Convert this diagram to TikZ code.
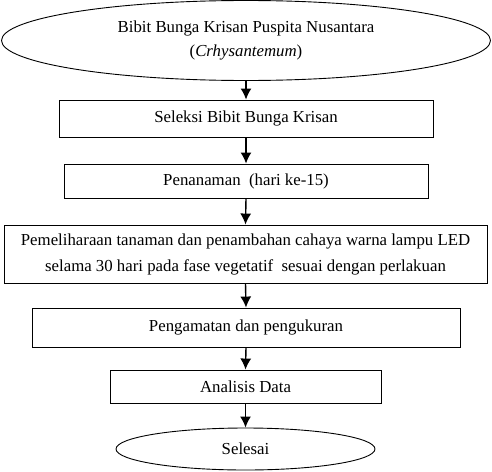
\documentclass[tikz,border=0pt]{standalone}
\usepackage{fontspec}
\setmainfont{Liberation Serif}
\usetikzlibrary{arrows,arrows.meta}
\usetikzlibrary{shapes.geometric}

\begin{document}
\begin{tikzpicture}[x=1pt,y=-1pt,>={Latex[length=11pt,width=11pt]},every node/.style={font=\fontsize{16.8}{24}\selectfont},
	box/.style={draw,line width=0.9pt,inner sep=0pt,align=center},
	oval/.style={draw,ellipse,line width=0.9pt,inner sep=0pt,align=center},
	flow/.style={->,line width=1.4pt}]
	\useasboundingbox (0,0) rectangle (492,471);
	\node[oval,minimum width=489pt,minimum height=80pt] (bibit) at (246,40.5) {Bibit Bunga Krisan Puspita Nusantara\\ (\textit{Crhysantemum})};
	\node[box,minimum width=374pt,minimum height=37pt] (seleksi) at (246,118.5) {Seleksi Bibit Bunga Krisan};
	\node[box,minimum width=364pt,minimum height=34pt] (tanam) at (246,181) {Penanaman\ \ (hari ke-15)};
	\node[box,minimum width=483pt,minimum height=58pt,font=\fontsize{16.8}{26}\selectfont] (pelihara) at (245.5,254) {Pemeliharaan tanaman dan penambahan cahaya warna lampu LED\\ selama 30 hari pada fase vegetatif\ \ sesuai dengan perlakuan};
	\node[box,minimum width=428pt,minimum height=39pt] (amati) at (246,327.5) {Pengamatan dan pengukuran};
	\node[box,minimum width=271pt,minimum height=33pt] (analisis) at (245.5,386.5) {Analisis Data};
	\node[oval,minimum width=259pt,minimum height=42pt] (selesai) at (245.5,449) {Selesai};
	\draw[flow] (bibit.south) -- (seleksi.north);
	\draw[flow] (seleksi.south) -- (tanam.north);
	\draw[flow] (tanam.south) -- (pelihara.north);
	\draw[flow] (pelihara.south) -- (amati.north);
	\draw[flow] (amati.south) -- (analisis.north);
	\draw[flow] (analisis.south) -- (selesai.north);
\end{tikzpicture}
\end{document}
